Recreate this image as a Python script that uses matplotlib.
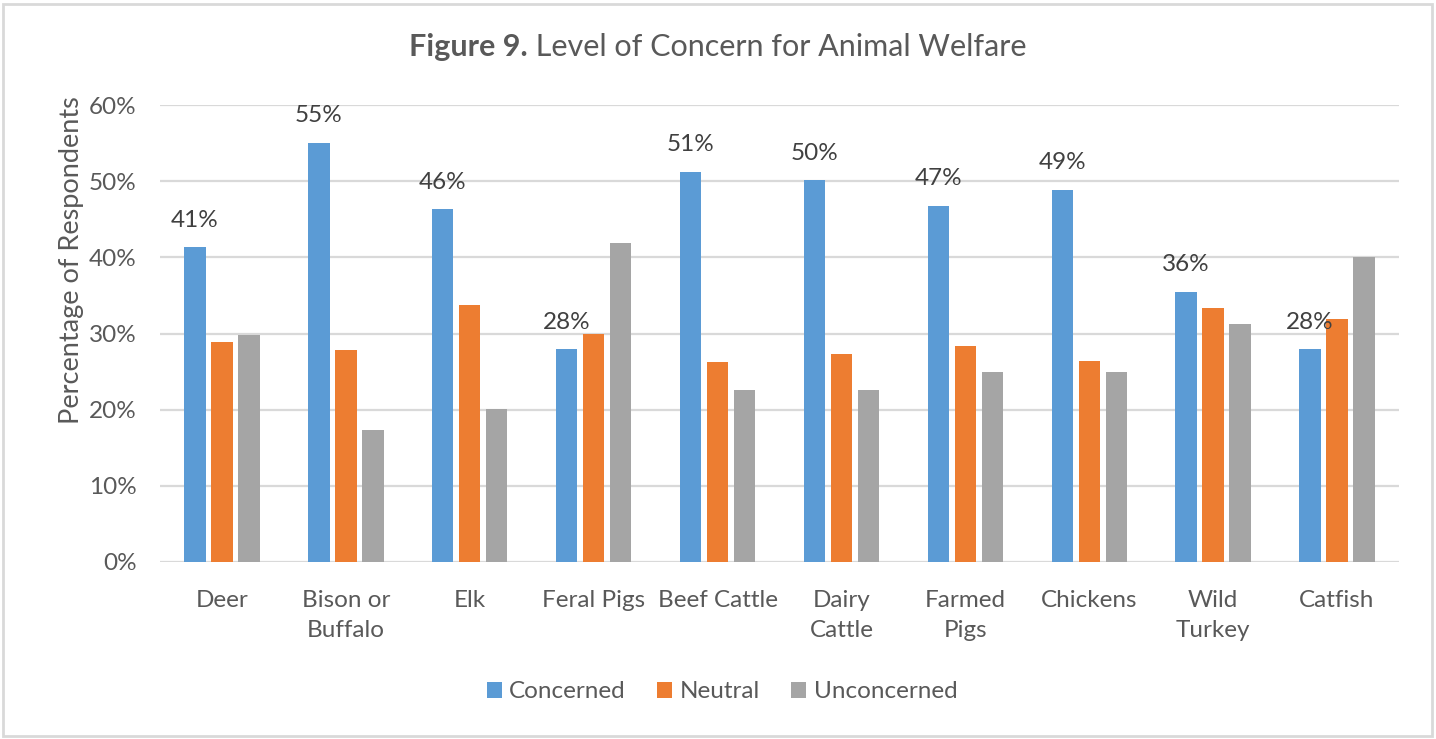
import numpy as np
import matplotlib
matplotlib.use("Agg")
import matplotlib.pyplot as plt
from matplotlib.patches import Rectangle

categories = ["Deer", "Bison or\nBuffalo", "Elk", "Feral Pigs", "Beef Cattle",
              "Dairy\nCattle", "Farmed\nPigs", "Chickens", "Wild\nTurkey", "Catfish"]
concerned = [41.3, 55.0, 46.3, 27.9, 51.2, 50.1, 46.7, 48.8, 35.5, 27.9]
neutral = [28.9, 27.8, 33.7, 30.0, 26.2, 27.3, 28.3, 26.4, 33.3, 31.9]
unconcerned = [29.8, 17.3, 20.1, 41.9, 22.6, 22.6, 25.0, 24.9, 31.2, 40.1]
labels_concerned = ["41%", "55%", "46%", "28%", "51%", "50%", "47%", "49%", "36%", "28%"]
yticks = [0, 10, 20, 30, 40, 50, 60]

series = [("Concerned", concerned, "#5B9BD5"),
          ("Neutral", neutral, "#ED7D31"),
          ("Unconcerned", unconcerned, "#A5A5A5")]

plt.rcParams['font.family'] = ['Lato', 'DejaVu Sans']
txt = "#595959"

fig = plt.figure(figsize=(14.36, 7.39), dpi=100)
ax = fig.add_axes([160 / 1436, 1 - 562 / 739, (1399 - 160) / 1436, (562 - 105) / 739])

x = np.arange(len(categories))
step = 0.218
width = 0.173
bars = []
for i, (name, vals, col) in enumerate(series):
    b = ax.bar(x + (i - 1) * step, vals, width, color=col, label=name, zorder=3)
    bars.append(b)

# data labels only on the "Concerned" bars
for xi, v, lab in zip(x - step, concerned, labels_concerned):
    ax.annotate(lab, (xi, v), xytext=(0, 15), textcoords="offset points",
                ha="center", va="baseline", fontsize=17.5, color="#404040")

ax.set_xlim(-0.5, len(categories) - 0.5)
ax.set_ylim(0, 60)
ax.set_yticks(yticks)
ax.set_yticklabels([f"{t}%" for t in yticks])
ax.set_xticks(x)
ax.set_xticklabels(categories, linespacing=1.55)
ax.tick_params(axis="y", length=0, pad=17, labelsize=17.5, labelcolor=txt)
ax.tick_params(axis="x", length=0, pad=20, labelsize=17.5, labelcolor=txt)
ax.grid(axis="y", color="#D9D9D9", linewidth=1.6, zorder=0)
for s in ax.spines.values():
    s.set_visible(False)

fig.text(72 / 1436, 1 - 260 / 739, "Percentage of Respondents", rotation=90,
         ha="center", va="center", fontsize=19.5, color=txt)

# title: bold "Figure 9." followed by regular text, centred as a whole
t1 = fig.text(0, 1 - 47 / 739, "Figure 9.", fontweight="bold", ha="left", va="center",
              fontsize=22, color=txt)
t2 = fig.text(0, 1 - 47 / 739, " Level of Concern for Animal Welfare", ha="left", va="center",
              fontsize=22, color=txt)
fig.canvas.draw()
r = fig.canvas.get_renderer()
w1 = t1.get_window_extent(r).width
w2 = t2.get_window_extent(r).width
x0 = (1436 - (w1 + w2)) / 2
t1.set_x(x0 / 1436)
t2.set_x((x0 + w1) / 1436)

fig.legend(handles=[b[0] for b in bars], labels=[s[0] for s in series],
           loc="center", bbox_to_anchor=(722 / 1436, 1 - 692 / 739), ncol=3,
           frameon=False, fontsize=17.5, handlelength=0.62, handleheight=0.62,
           handletextpad=0.3, columnspacing=1.3, labelcolor=txt)

fig.patches.append(Rectangle((3 / 1436, 3 / 739), 1 - 7 / 1436, 1 - 7 / 739,
                             transform=fig.transFigure, fill=False,
                             edgecolor="#D9D9D9", linewidth=2))

fig.savefig("out.png", dpi=100)
